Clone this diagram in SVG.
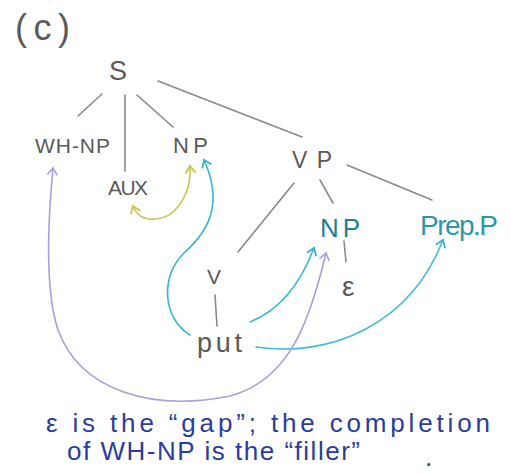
<svg xmlns="http://www.w3.org/2000/svg" width="511" height="474" viewBox="0 0 511 474">
<style>
.t{font-family:"Liberation Sans",Arial,sans-serif;fill:#5a5a5a}
.tree{stroke:#8a8a8a;stroke-width:1.6;fill:none;stroke-linecap:round}
.arr{fill:none;stroke-width:1.6;stroke-linecap:round}
.note{font-family:"Liberation Sans",Arial,sans-serif;fill:#2b3c9c;font-size:26px}
</style>
<defs>
<marker id="mY" markerUnits="userSpaceOnUse" markerWidth="16" markerHeight="16" refX="0" refY="0" viewBox="-10 -8 14 16" orient="auto-start-reverse"><path d="M-7,-5 L0,0 L-7,5" fill="none" stroke="#c9c653" stroke-width="2"/></marker>
<marker id="mC" markerUnits="userSpaceOnUse" markerWidth="16" markerHeight="16" refX="0" refY="0" viewBox="-10 -8 14 16" orient="auto-start-reverse"><path d="M-7,-5 L0,0 L-7,5" fill="none" stroke="#35b3d2" stroke-width="1.8"/></marker>
<marker id="mP" markerUnits="userSpaceOnUse" markerWidth="16" markerHeight="16" refX="0" refY="0" viewBox="-10 -8 14 16" orient="auto-start-reverse"><path d="M-7,-5 L0,0 L-7,5" fill="none" stroke="#a99fe0" stroke-width="1.6"/></marker>
</defs>
<text class="t" x="15" y="40" font-size="36" textLength="55" lengthAdjust="spacing">(c)</text>
<g id="connectors">
<line class="tree" x1="102" y1="94" x2="78" y2="116"/>
<line class="tree" x1="125" y1="95" x2="125" y2="171"/>
<line class="tree" x1="137" y1="95" x2="173" y2="127"/>
<line class="tree" x1="158" y1="81" x2="302" y2="137"/>
<line class="tree" x1="294" y1="183" x2="238" y2="252"/>
<line class="tree" x1="320" y1="180" x2="333" y2="203"/>
<line class="tree" x1="347" y1="165" x2="432" y2="200"/>
<line class="tree" x1="344" y1="241" x2="346" y2="262"/>
<line class="tree" x1="215" y1="295" x2="217" y2="326"/>
<path class="arr" stroke="#c9c653" d="M190,166 C192,190 178,218 155,219 C143,220 136,214 133,206" marker-start="url(#mY)" marker-end="url(#mY)"/>
<path class="arr" stroke="#35b3d2" d="M190,335 C162,318 160,275 185,252 C212,228 222,200 204,160" marker-end="url(#mC)"/>
<path class="arr" stroke="#35b9d0" d="M250,322 C280,310 300,285 314,248" marker-end="url(#mC)"/>
<path class="arr" stroke="#40bcd2" d="M256,347 C330,358 410,325 443,240" marker-end="url(#mC)"/>
<path class="arr" stroke="#a99fe0" d="M326,253 C310,320 290,380 230,396 C150,412 80,390 58,330 C45,290 48,220 53,168" marker-start="url(#mP)" marker-end="url(#mP)"/>
</g>
<g id="S"><text class="t" x="109" y="80" font-size="27">S</text></g>
<g id="WH-NP"><text class="t" x="35" y="153" font-size="21" textLength="75" lengthAdjust="spacing">WH-NP</text></g>
<g id="NP1"><text class="t" x="173" y="153" font-size="22" textLength="35" lengthAdjust="spacing">NP</text></g>
<g id="AUX"><text class="t" x="108" y="195" font-size="21" textLength="40" lengthAdjust="spacing">AUX</text></g>
<g id="VP"><text class="t" x="292" y="168" font-size="23" textLength="40" lengthAdjust="spacing">VP</text></g>
<g id="NP2"><text class="t" x="320" y="237" font-size="26" style="fill:#1f7f8f" textLength="40" lengthAdjust="spacing">NP</text></g>
<g id="PrepP"><text class="t" x="420" y="235" font-size="28" style="fill:#2a98a8" textLength="78" lengthAdjust="spacing">Prep.P</text></g>
<g id="epsilon"><text class="t" x="342" y="296" font-size="28">ε</text></g>
<g id="V"><text class="t" x="207" y="284" font-size="21">V</text></g>
<g id="put"><text class="t" x="197" y="352" font-size="27" textLength="45" lengthAdjust="spacing">put</text></g>
<g id="note">
<text class="note" x="46" y="432" textLength="444" lengthAdjust="spacing">ε is the “gap”; the completion</text>
<text class="note" x="67" y="460" textLength="293" lengthAdjust="spacing">of WH-NP is the “filler”</text>
<text class="note" x="425" y="466" font-size="20">.</text>
</g>
</svg>
